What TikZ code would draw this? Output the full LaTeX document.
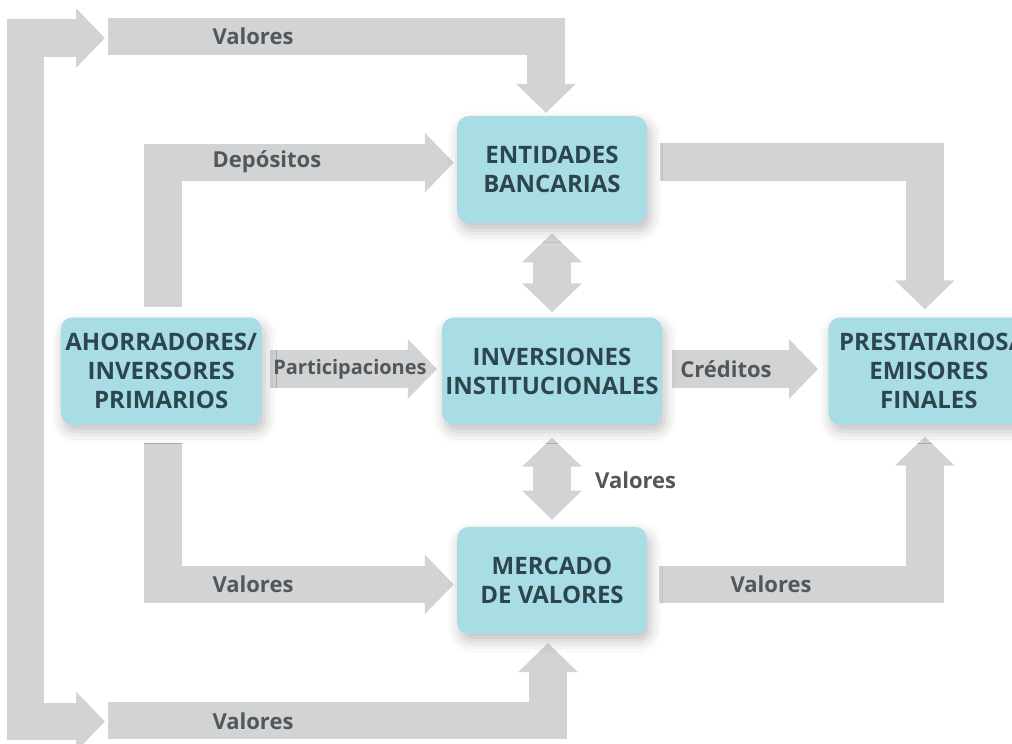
\documentclass[tikz,border=0pt]{standalone}
\usepackage{fontspec}
\setmainfont{Open Sans}
\usetikzlibrary{arrows.meta,positioning,backgrounds,shadows.blur}
\definecolor{flowgray}{RGB}{209,211,212}
\definecolor{boxfill}{RGB}{168,221,229}
\definecolor{boxtext}{RGB}{45,70,78}
\definecolor{lbltext}{RGB}{84,87,89}
\tikzset{flowtip/.tip={Triangle[width=58pt,length=29pt]}}
\begin{document}
\begin{tikzpicture}[
		x=1pt, y=-1pt,
		box/.style={fill=boxfill, rounded corners=12pt, minimum height=107pt, align=center, text=boxtext,
			font=\fontsize{24}{29}\selectfont\bfseries,
			blur shadow={shadow xshift=3pt, shadow yshift=-7pt, shadow blur radius=12pt, shadow opacity=25}},
		flow/.style={draw=flowgray, line width=37.5pt, -flowtip},
		lbl/.style={text=lbltext, font=\fontsize{22}{26}\selectfont\bfseries, inner sep=0pt},
	]
		\useasboundingbox (0,0) rectangle (1012,744);

		\node[box, minimum width=218pt] (inv) at (552,371) {INVERSIONES\\INSTITUCIONALES};
		\node[box, minimum width=190pt, above=94pt of inv] (ent) {ENTIDADES\\BANCARIAS};
		\node[box, minimum width=190pt, below=102pt of inv] (mer) {MERCADO\\DE VALORES};
		\node[box, minimum width=201pt, left=180pt of inv] (aho) {AHORRADORES/\\INVERSORES\\PRIMARIOS};
		\node[box, minimum width=201pt, right=166pt of inv] (pre) {PRESTATARIOS/\\EMISORES\\FINALES};

		\coordinate (loopTop) at (105,38);
		\coordinate (loopBot) at (105,721.5);
		\coordinate (valTop) at (108,36.5);
		\coordinate (valBot) at (108,720.5);

		\begin{scope}[on background layer]
			\draw[flow, flowtip-flowtip] (loopTop) -| (25.5,380) |- (loopBot);
			\draw[flow, shorten >=3pt] (valTop) -| ([xshift=-6pt]ent.north);
			\draw[flow, shorten >=9pt] (valBot) -| ([xshift=-4pt]mer.south);
			\draw[flow, shorten <=10pt, shorten >=3pt] ([xshift=2pt]aho.north) |- ([yshift=7pt]ent.west);
			\draw[flow, shorten <=18pt, shorten >=3pt] ([xshift=2pt]aho.south) |- ([yshift=-4pt]mer.west);
			\draw[flow, shorten <=8pt, shorten >=5pt] ([yshift=2pt]aho.east) -- ([yshift=2pt]inv.west);
			\draw[flow, shorten <=10pt, shorten >=10pt] ([yshift=2pt]inv.east) -- ([yshift=2pt]pre.west);
			\draw[flow, shorten <=13pt, shorten >=8pt] ([yshift=7.5pt]ent.east) -| ([xshift=-4pt]pre.north);
			\draw[flow, shorten <=12pt, shorten >=12pt] ([yshift=-4pt]mer.east) -| ([xshift=-4pt]pre.south);
			\draw[flow, flowtip-flowtip, shorten <=10pt, shorten >=5pt] (ent) -- (inv);
			\draw[flow, flowtip-flowtip, shorten <=13pt, shorten >=7pt] (inv) -- (mer);
		\end{scope}

		\node[lbl] (lvaltop) at (253,36) {Valores};
		\node[lbl] (ldep) at (267,162) {Depósitos};
		\node[lbl] (lvalaho) at (253,584) {Valores};
		\node[lbl] (lvalbot) at (253,721) {Valores};
		\node[lbl] (lvalmer) at (771,584) {Valores};
		\node[lbl, anchor=west] (lvalinv) at (595,480) {Valores};
		\node[lbl, font=\fontsize{20}{24}\selectfont\bfseries] (lpart) at (350,369) {Participaciones};
		\node[lbl] (lcred) at (726,369) {Créditos};
	\end{tikzpicture}
\end{document}
